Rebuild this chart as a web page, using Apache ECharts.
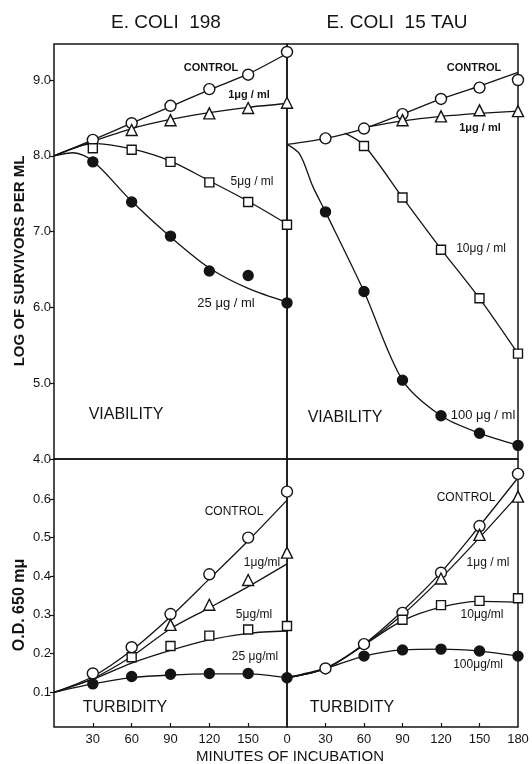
<!DOCTYPE html>
<html><head><meta charset="utf-8">
<script src="https://cdn.jsdelivr.net/npm/echarts@6/dist/echarts.min.js"></script>
<style>html,body{margin:0;padding:0;background:#fff}#c{width:532px;height:764px}</style>
</head><body><div id="c"></div>
<script>
// ---------- DATA ----------
const minutes = [0, 30, 60, 90, 120, 150, 180];

// Viability (log survivors per ml) — E. coli 198, measured points
const via198Control = [null, 8.21, 8.43, 8.66, 8.88, 9.07, 9.37];
const via198Ug1     = [null, null, 8.34, 8.47, 8.56, 8.63, 8.70];
const via198Ug5     = [null, 8.10, 8.08, 7.92, 7.65, 7.39, 7.09];
const via198Ug25    = [null, 7.92, 7.39, 6.94, 6.48, 6.42, 6.06];
// Viability — E. coli 198, drawn curves
const via198ControlCurve = [8.0, 8.21, 8.43, 8.65, 8.87, 9.08, 9.35];
const via198Ug1Curve     = [8.0, 8.19, 8.36, 8.48, 8.57, 8.64, 8.69];
const via198Ug5Curve     = [8.0, 8.16, 8.09, 7.93, 7.67, 7.40, 7.10];
const via198Ug25CurveT   = [0, 15, 30, 60, 90, 120, 150, 180];
const via198Ug25Curve    = [8.0, 8.04, 7.93, 7.40, 6.93, 6.52, 6.25, 6.07];

// Viability — E. coli 15 TAU, measured points
const viaTauControl = [null, 8.23, 8.36, 8.55, 8.75, 8.90, 9.00];
const viaTauUg1     = [null, null, null, 8.47, 8.52, 8.60, 8.59];
const viaTauUg10    = [null, null, 8.13, 7.45, 6.76, 6.12, 5.39];
const viaTauUg100   = [null, 7.26, 6.21, 5.04, 4.57, 4.34, 4.18];
// Viability — E. coli 15 TAU, drawn curves
const viaTauControlCurve = [8.15, 8.23, 8.36, 8.55, 8.75, 8.92, 9.10];
const viaTauUg1CurveT    = [60, 90, 120, 150, 180];
const viaTauUg1Curve     = [8.37, 8.46, 8.52, 8.56, 8.59];
const viaTauUg10CurveT   = [45, 60, 90, 120, 150, 180];
const viaTauUg10Curve    = [8.30, 8.14, 7.45, 6.77, 6.12, 5.39];
const viaTauUg100CurveT  = [0, 10, 20, 30, 60, 90, 120, 150, 180];
const viaTauUg100Curve   = [8.15, 8.02, 7.60, 7.26, 6.21, 5.04, 4.57, 4.34, 4.18];

// Turbidity (O.D. 650 mμ) — E. coli 198, measured points
const tur198Control = [null, 0.148, 0.216, 0.302, 0.405, 0.500, 0.619];
const tur198Ug1     = [null, null, null, 0.274, 0.326, 0.390, 0.461];
const tur198Ug5     = [null, null, 0.190, 0.219, 0.246, 0.262, 0.271];
const tur198Ug25    = [null, 0.121, 0.140, 0.146, 0.148, 0.148, 0.137];
// Turbidity — E. coli 198, drawn curves
const tur198ControlCurve = [0.099, 0.140, 0.208, 0.295, 0.393, 0.492, 0.597];
const tur198Ug1Curve     = [0.099, 0.135, 0.192, 0.264, 0.318, 0.373, 0.432];
const tur198Ug5Curve     = [0.099, 0.133, 0.175, 0.208, 0.235, 0.252, 0.258];
const tur198Ug25Curve    = [0.099, 0.121, 0.137, 0.144, 0.147, 0.147, 0.137];

// Turbidity — E. coli 15 TAU, measured points
const turTauControl = [null, 0.161, 0.224, 0.305, 0.409, 0.530, 0.665];
const turTauUg1     = [null, null, null, null, 0.394, 0.507, 0.606];
const turTauUg10    = [null, null, null, 0.287, 0.325, 0.336, 0.343];
const turTauUg100   = [null, null, 0.193, 0.209, 0.211, 0.206, 0.193];
// Turbidity — E. coli 15 TAU, drawn curves
const turTauControlCurve = [0.137, 0.161, 0.224, 0.310, 0.410, 0.530, 0.655];
const turTauUg1Curve     = [0.137, 0.161, 0.222, 0.300, 0.395, 0.500, 0.610];
const turTauUg10Curve    = [0.137, 0.161, 0.222, 0.285, 0.320, 0.335, 0.333];
const turTauUg100Curve   = [0.137, 0.161, 0.193, 0.209, 0.211, 0.206, 0.193];

// Tick labels
const viaTicks = [4, 5, 6, 7, 8, 9];
const viaTickLabels = ['4.0', '5.0', '6.0', '7.0', '8.0', '9.0'];
const turTicks = [0.1, 0.2, 0.3, 0.4, 0.5, 0.6];
const turTickLabels = ['0.1', '0.2', '0.3', '0.4', '0.5', '0.6'];
const leftMinuteTicks = [30, 60, 90, 120, 150];
const rightMinuteTicks = [0, 30, 60, 90, 120, 150, 180];

// ---------- CHART ----------
const FONT = "'Liberation Sans', Arial, sans-serif";
const INK = '#141414';

function pairs(ts, vs) {
  return ts.map((t, i) => [t, vs[i]]).filter(p => p[1] !== null && p[1] !== undefined);
}
function curve(g, ts, vs) {
  return {
    type: 'line', xAxisIndex: g, yAxisIndex: g, data: pairs(ts, vs),
    smooth: 0.3, showSymbol: false, silent: true, clip: false,
    lineStyle: { color: INK, width: 1.3 }, z: 2, animation: false
  };
}
const markerStyles = {
  open:   { symbol: 'circle',   size: 11, fill: '#fff' },
  tri:    { symbol: 'triangle', size: 11, fill: '#fff' },
  square: { symbol: 'rect',     size: 9,  fill: '#fff' },
  filled: { symbol: 'circle',   size: 10, fill: INK }
};
function markers(g, vs, kind) {
  const m = markerStyles[kind];
  return {
    type: 'scatter', xAxisIndex: g, yAxisIndex: g, data: pairs(minutes, vs),
    symbol: m.symbol, symbolSize: m.size, clip: false, silent: true, z: 4, animation: false,
    itemStyle: { color: m.fill, borderColor: INK, borderWidth: 1.4, opacity: 1 }
  };
}
function fmt(ticks, labels) {
  return v => { const i = ticks.findIndex(t => Math.abs(t - v) < 1e-6); return i >= 0 ? labels[i] : ''; };
}

const grids = [
  { left: 54,  top: 44,  width: 233, height: 415 },
  { left: 287, top: 44,  width: 231, height: 415 },
  { left: 54,  top: 459, width: 233, height: 268 },
  { left: 287, top: 459, width: 231, height: 268 }
].map(g => Object.assign(g, { show: true, borderColor: INK, borderWidth: 1.5, backgroundColor: 'transparent', containLabel: false }));

function xAx(g, ticks, showLabels) {
  return {
    type: 'value', gridIndex: g, min: 0, max: 180,
    axisLine: { show: false }, splitLine: { show: false },
    axisTick: { show: showLabels, inside: true, length: 4, customValues: leftMinuteTicks, lineStyle: { color: INK, width: 1.2 } },
    axisLabel: { show: showLabels, customValues: ticks, color: INK, fontFamily: FONT, fontSize: 13, margin: 6, formatter: v => String(v) }
  };
}
function yAx(g, min, max, ticks, labels, showLabels) {
  return {
    type: 'value', gridIndex: g, min: min, max: max,
    axisLine: { show: false }, splitLine: { show: false },
    axisTick: { show: showLabels, inside: false, length: 4, customValues: ticks, lineStyle: { color: INK, width: 1.2 } },
    axisLabel: { show: showLabels, customValues: ticks, color: INK, fontFamily: FONT, fontSize: 13, margin: 3, formatter: fmt(ticks, labels) }
  };
}

const xAxis = [xAx(0, leftMinuteTicks, false), xAx(1, rightMinuteTicks, false), xAx(2, leftMinuteTicks, true), xAx(3, rightMinuteTicks, true)];
const yAxis = [
  yAx(0, 4.0, 9.475, viaTicks, viaTickLabels, true),
  yAx(1, 4.0, 9.475, viaTicks, viaTickLabels, false),
  yAx(2, 0.0093, 0.7036, turTicks, turTickLabels, true),
  yAx(3, 0.0093, 0.7036, turTicks, turTickLabels, false)
];

const series = [
  curve(0, minutes, via198ControlCurve), curve(0, minutes, via198Ug1Curve),
  curve(0, minutes, via198Ug5Curve), curve(0, via198Ug25CurveT, via198Ug25Curve),
  markers(0, via198Control, 'open'), markers(0, via198Ug1, 'tri'),
  markers(0, via198Ug5, 'square'), markers(0, via198Ug25, 'filled'),

  curve(1, minutes, viaTauControlCurve), curve(1, viaTauUg1CurveT, viaTauUg1Curve),
  curve(1, viaTauUg10CurveT, viaTauUg10Curve), curve(1, viaTauUg100CurveT, viaTauUg100Curve),
  markers(1, viaTauControl, 'open'), markers(1, viaTauUg1, 'tri'),
  markers(1, viaTauUg10, 'square'), markers(1, viaTauUg100, 'filled'),

  curve(2, minutes, tur198ControlCurve), curve(2, minutes, tur198Ug1Curve),
  curve(2, minutes, tur198Ug5Curve), curve(2, minutes, tur198Ug25Curve),
  markers(2, tur198Control, 'open'), markers(2, tur198Ug1, 'tri'),
  markers(2, tur198Ug5, 'square'), markers(2, tur198Ug25, 'filled'),

  curve(3, minutes, turTauControlCurve), curve(3, minutes, turTauUg1Curve),
  curve(3, minutes, turTauUg10Curve), curve(3, minutes, turTauUg100Curve),
  markers(3, turTauControl, 'open'), markers(3, turTauUg1, 'tri'),
  markers(3, turTauUg10, 'square'), markers(3, turTauUg100, 'filled')
];

function txt(text, x, y, size, opts) {
  opts = opts || {};
  return {
    type: 'text', x: x, y: y, rotation: opts.rot || 0, z: 10,
    style: {
      text: text, fill: INK, fontFamily: FONT, fontSize: size,
      fontWeight: opts.bold ? 'bold' : 'normal', align: 'center', verticalAlign: 'middle'
    }
  };
}

const graphic = [
  txt('E. COLI  198', 166, 23, 19),
  txt('E. COLI  15 TAU', 397, 23, 19),
  txt('LOG OF SURVIVORS PER ML', 20, 261, 15, { bold: true, rot: Math.PI / 2 }),
  txt('O.D. 650 m\u03bc', 20, 605, 16, { bold: true, rot: Math.PI / 2 }),
  txt('MINUTES OF INCUBATION', 290, 757, 15),

  txt('CONTROL', 211, 68, 11, { bold: true }),
  txt('1\u03bcg / ml', 249, 95, 11, { bold: true }),
  txt('5\u03bcg / ml', 252, 182, 12),
  txt('25 \u03bcg / ml', 226, 303, 13),
  txt('VIABILITY', 126, 415, 16),

  txt('CONTROL', 474, 68, 11, { bold: true }),
  txt('1\u03bcg / ml', 480, 128, 11, { bold: true }),
  txt('10\u03bcg / ml', 481, 249, 12),
  txt('100 \u03bcg / ml', 483, 415, 13),
  txt('VIABILITY', 345, 418, 16),

  txt('CONTROL', 234, 512, 12),
  txt('1\u03bcg/ml', 262, 563, 12),
  txt('5\u03bcg/ml', 254, 615, 12),
  txt('25 \u03bcg/ml', 255, 657, 12),
  txt('TURBIDITY', 125, 708, 16),

  txt('CONTROL', 466, 498, 12),
  txt('1\u03bcg / ml', 488, 563, 12),
  txt('10\u03bcg/ml', 482, 615, 12),
  txt('100\u03bcg/ml', 478, 665, 12),
  txt('TURBIDITY', 352, 708, 16)
];

const chart = echarts.init(document.getElementById('c'), null, { renderer: 'canvas' });
chart.setOption({
  backgroundColor: '#fff',
  animation: false,
  grid: grids, xAxis: xAxis, yAxis: yAxis, series: series, graphic: graphic
});
</script>
</body></html>
